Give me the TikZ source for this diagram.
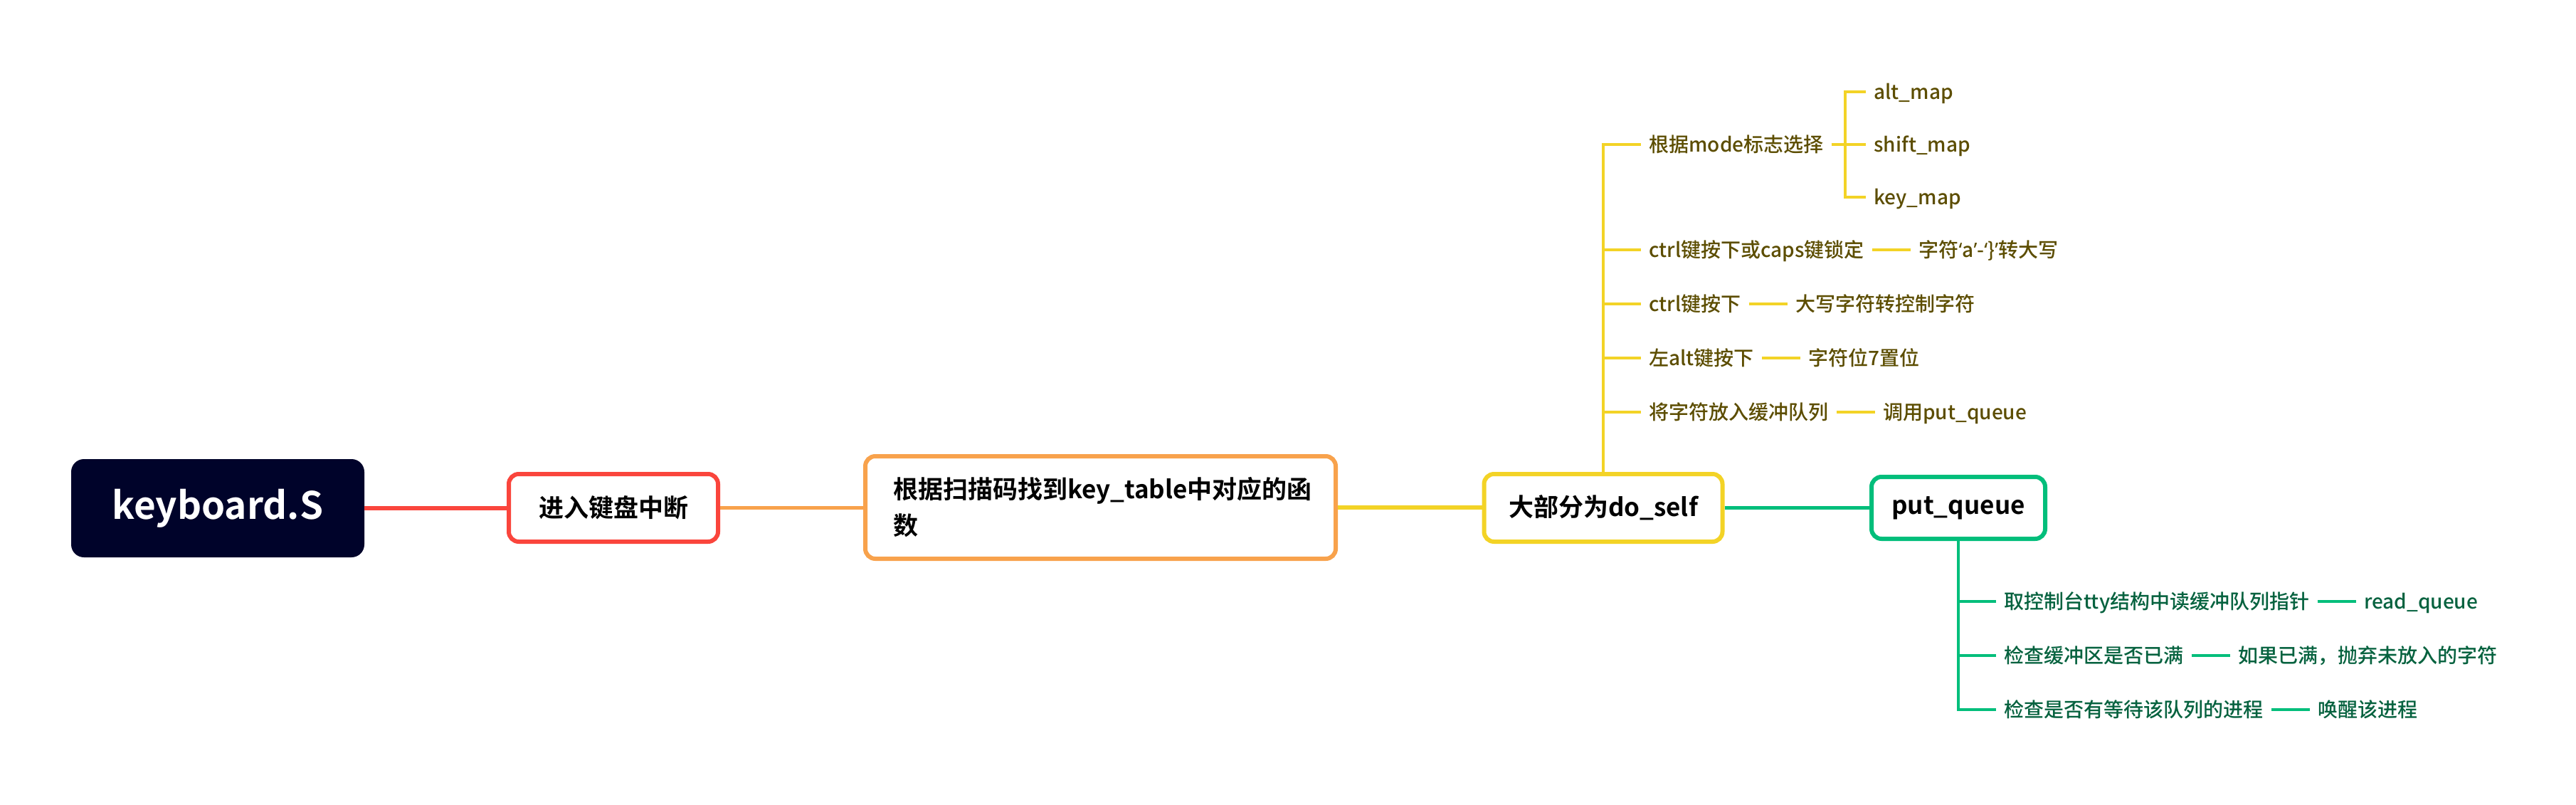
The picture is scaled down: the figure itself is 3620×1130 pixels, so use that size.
\documentclass[tikz,border=0pt]{standalone}
\usepackage{fontspec}
\setmainfont{Noto Sans CJK SC}
\newfontfamily\medfont{Noto Sans CJK SC Medium}
\newfontfamily\boldfont{Noto Sans CJK SC Bold}
\newfontfamily\qfont{Noto Sans}
\usetikzlibrary{positioning}
\definecolor{rootc}{HTML}{00032A}
\definecolor{redc}{HTML}{FA453C}
\definecolor{orac}{HTML}{F8A24C}
\definecolor{yelc}{HTML}{F3D326}
\definecolor{yelt}{HTML}{5C4D00}
\definecolor{grnc}{HTML}{02BE7B}
\definecolor{grnt}{HTML}{06623F}
\tikzset{
  mainbox/.style={draw, line width=3pt, rounded corners=7pt, fill=white, inner sep=0pt,
    font=\boldfont\fontsize{17.5}{25.5}\selectfont, text=black},
  subtext/.style={inner xsep=5.5pt, inner ysep=0pt, anchor=west,
    font=\medfont\fontsize{14}{16}\selectfont, text height=12pt, text depth=2pt},
  link/.style={line width=2.75pt},
  twig/.style={line width=2pt},
}
\begin{document}
\begin{tikzpicture}[x=0.5pt,y=-0.5pt]
\fill[white] (0,0) rectangle (3620,1130);
\useasboundingbox (0,0) rectangle (3620,1130);

% main chain
\node[fill=rootc, rounded corners=9pt, minimum width=206pt, minimum height=69pt, inner sep=0pt,
  text=white, font=\boldfont\fontsize{26.5}{30}\selectfont] (root) at (306,714) {keyboard.S};
\node[mainbox, draw=redc, minimum width=147pt, minimum height=47.5pt] (n1) at (862,713.5) {进入键盘中断};
\node[mainbox, draw=orac, minimum width=330.5pt, minimum height=72pt, inner xsep=19.5pt,
  text width=291.5pt, align=left] (n2) at (1546.5,713) {根据扫描码找到key\_table中对应的函\\数};
\node[mainbox, draw=yelc, minimum width=167.5pt, minimum height=47.5pt] (n3) at (2253,713.5) {大部分为do\_self};
\node[mainbox, draw=grnc, minimum width=122pt, minimum height=43.5pt] (n4) at (2752,713.5) {put\_queue};

\draw[link, redc] (root.east) -- (root.east -| n1.west);
\draw[link, orac] (n1.east) -- (n1.east -| n2.west);
\draw[link, yelc] (n2.east) -- (n2.east -| n3.west);
\draw[link, grnc] (n3.east) -- (n3.east -| n4.west);

% yellow subtree
\node[subtext, text=yelt] (mode) at (2306,203) {根据mode标志选择};
\node[subtext, text=yelt] (caps) at (2306,351) {ctrl键按下或caps键锁定};
\node[subtext, text=yelt] (ctrl) at (2306,427) {ctrl键按下};
\node[subtext, text=yelt] (alt) at (2306,503) {左alt键按下};
\node[subtext, text=yelt] (put) at (2306,579) {将字符放入缓冲队列};
\node[subtext, text=yelt] (altm) at (2622,129) {alt\_map};
\node[subtext, text=yelt] (shiftm) at (2622,203) {shift\_map};
\node[subtext, text=yelt] (keym) at (2622,277) {key\_map};
\node[subtext, text=yelt, right=27pt of caps] (caps2) {字符{\qfont ‘}a{\qfont ’}-{\qfont ‘}\}{\qfont ’}转大写};
\node[subtext, text=yelt, right=27pt of ctrl] (ctrl2) {大写字符转控制字符};
\node[subtext, text=yelt, right=27pt of alt] (alt2) {字符位7置位};
\node[subtext, text=yelt, right=27pt of put] (put2) {调用put\_queue};

\draw[twig, yelc] (n3.north) |- (mode.west);
\foreach \r in {caps,ctrl,alt,put} \draw[twig, yelc] (\r.west) -- (\r.west -| n3.north);
\foreach \r in {caps,ctrl,alt,put} \draw[twig, yelc] (\r.east) -- (\r2.west);
\coordinate (mb) at (2593,203);
\draw[twig, yelc] (mode.east) -- (shiftm.west);
\draw[twig, yelc] (altm.west) -| (mb) |- (keym.west);

% green subtree
\node[subtext, text=grnt] (g1) at (2805,845) {取控制台tty结构中读缓冲队列指针};
\node[subtext, text=grnt] (g2) at (2805,921) {检查缓冲区是否已满};
\node[subtext, text=grnt] (g3) at (2805,997) {检查是否有等待该队列的进程};
\node[subtext, text=grnt, right=27pt of g1] (g1b) {read\_queue};
\node[subtext, text=grnt, right=27pt of g2] (g2b) {如果已满，抛弃未放入的字符};
\node[subtext, text=grnt, right=27pt of g3] (g3b) {唤醒该进程};

\draw[twig, grnc] (n4.south) |- (g3.west);
\foreach \r in {g1,g2} \draw[twig, grnc] (\r.west) -- (\r.west -| n4.south);
\foreach \r in {g1,g2,g3} \draw[twig, grnc] (\r.east) -- (\r b.west);
\end{tikzpicture}
\end{document}
